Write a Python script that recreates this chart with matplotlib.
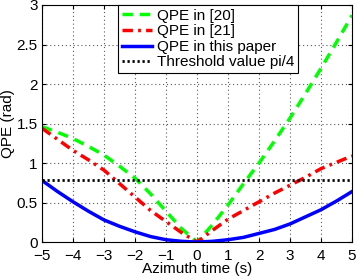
import numpy as np
import matplotlib
matplotlib.use("Agg")
from matplotlib import pyplot as plt

plt.rcParams["font.family"] = ["Liberation Sans", "DejaVu Sans"]
plt.rcParams["font.size"] = 11

# values
x_left = [-5, -4.5, -4, -3.5, -3, -2.5, -2, -1.5, -1, -0.5, 0]
x_right = [0, 0.5, 1, 1.5, 2, 2.5, 3, 3.5, 4, 4.5, 5]

qpe20_left = [1.46, 1.39, 1.31, 1.21, 1.10, 0.96, 0.81, 0.61, 0.39, 0.17, 0.0]
qpe20_right = [0.0, 0.22, 0.47, 0.74, 1.00, 1.28, 1.57, 1.88, 2.20, 2.53, 2.87]

qpe21_left = [1.44, 1.30, 1.16, 1.04, 0.91, 0.74, 0.57, 0.40, 0.26, 0.12, 0.0]
qpe21_right = [0.0, 0.15, 0.29, 0.40, 0.51, 0.62, 0.72, 0.82, 0.93, 1.01, 1.09]

qpe_ours_left = [0.78, 0.64, 0.51, 0.39, 0.28, 0.20, 0.13, 0.07, 0.03, 0.01, 0.0]
qpe_ours_right = [0.0, 0.01, 0.03, 0.06, 0.11, 0.16, 0.23, 0.32, 0.41, 0.52, 0.64]

threshold = np.pi / 4

x = x_left + x_right[1:]
qpe20 = qpe20_left + qpe20_right[1:]
qpe21 = qpe21_left + qpe21_right[1:]
qpe_ours = qpe_ours_left + qpe_ours_right[1:]

fig = plt.figure(figsize=(3.56, 2.77), dpi=100)
ax = fig.add_axes([0.118, 0.126, 0.871, 0.856])

ax.plot(x, qpe20, color=(0, 1, 0), linestyle=(0, (3, 2)), linewidth=2.5, label="QPE in [20]")
ax.plot(x, qpe21, color=(1, 0, 0), linestyle=(0, (3, 1.5, 0.8, 1.5)), linewidth=2.5, label="QPE in [21]")
ax.plot(x, qpe_ours, color=(0, 0, 1), linewidth=2.5, label="QPE in this paper")
ax.plot([x[0], x[-1]], [threshold, threshold], color="black", linestyle=(0, (0.8, 1)),
        linewidth=2, label="Threshold value pi/4")

ax.set_xlim(-5, 5)
ax.set_ylim(0, 3)
ax.set_xticks(range(-5, 6))
ax.set_xticklabels([str(v).replace("-", "\u2212") for v in range(-5, 6)])
ax.set_yticks([0, 0.5, 1, 1.5, 2, 2.5, 3])
ax.set_yticklabels(["0", "0.5", "1", "1.5", "2", "2.5", "3"])
ax.grid(True, color="0.35", linestyle=(0, (1, 2.5)), linewidth=0.8)
ax.tick_params(direction="in", length=3, top=True, right=True)
ax.tick_params(axis="x", pad=5)
ax.tick_params(axis="y", pad=3)
for s in ax.spines.values():
    s.set_linewidth(0.8)

ax.set_xlabel("Azimuth time (s)", labelpad=-1)
ax.set_ylabel("QPE (rad)", labelpad=1)

leg = ax.legend(loc="upper right", bbox_to_anchor=(0.826, 1.0), fancybox=False,
                framealpha=1, edgecolor="black", borderpad=0.25, labelspacing=0.1,
                handlelength=2.0, handletextpad=0.3, borderaxespad=0)
leg.get_frame().set_linewidth(0.8)

fig.savefig("out.png", dpi=100)
